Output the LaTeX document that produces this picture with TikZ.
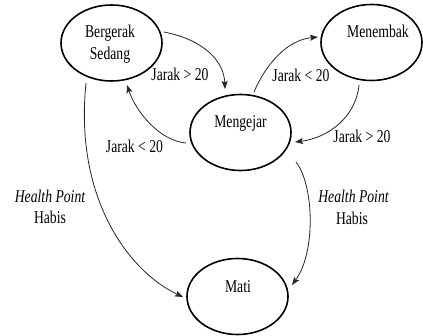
\documentclass[tikz,border=0pt]{standalone}
\usepackage{fontspec}
\setmainfont[FakeStretch=0.76]{Liberation Serif}
\usetikzlibrary{shapes.geometric,arrows.meta}
\tikzset{
  statebox/.style={ellipse, draw=black, line width=1.6pt, inner sep=0pt, minimum width=101pt, minimum height=76pt},
  txt/.style={anchor=base, inner sep=0pt, font=\fontsize{18}{22}\selectfont, text=black},
  conn/.style={draw=black!85, line width=0.8pt, -{Stealth[length=8pt,width=6pt,inset=1.5pt]}}
}
\begin{document}
\begin{tikzpicture}[x=1pt,y=-1pt]
\path[use as bounding box, fill=white] (0,0) rectangle (423,336);
% states
\node[statebox] (berg) at (111.5,43) {};
\node[statebox] (mene) at (371.5,42.5) {};
\node[statebox] (meng) at (240.5,132.5) {};
\node[statebox] (mati) at (237.5,296.5) {};
% state texts
\node[txt] (tberg1) at (110,38) {Bergerak};
\node[txt] (tberg2) at (110,60) {Sedang};
\node[txt] (tmene) at (378,38) {Menembak};
\node[txt] (tmeng) at (240.5,128) {Mengejar};
\node[txt] (tmati) at (238,293) {Mati};
% connector end points
\coordinate (a1) at (164,32);   \coordinate (a2) at (225,89);
\coordinate (b1) at (186,143);  \coordinate (b2) at (127,85);
\coordinate (c1) at (254,92);   \coordinate (c2) at (318,37);
\coordinate (d1) at (359,85);   \coordinate (d2) at (295,142);
\coordinate (e1) at (86,83);    \coordinate (e2) at (183,297);
\coordinate (f1) at (296,162);  \coordinate (f2) at (292,285);
% connectors
\path[conn] (a1) .. controls (205,40) and (224,62) .. (a2);
\path[conn] (b1) .. controls (160,141) and (136,112) .. (b2);
\path[conn] (c1) .. controls (266,64) and (287,40) .. (c2);
\path[conn] (d1) .. controls (356,117) and (328,138) .. (d2);
\path[conn] (e1) .. controls (74,200) and (130,272) .. (e2);
\path[conn] (f1) .. controls (314,185) and (316,252) .. (f2);
% labels
\node[txt] (l1) at (180,80.5) {Jarak > 20};
\node[txt] (l2) at (134.5,153) {Jarak < 20};
\node[txt] (l3) at (301,82) {Jarak < 20};
\node[txt] (l4) at (362,143) {Jarak > 20};
\node[txt] (l5a) at (50,203) {\itshape Health Point};
\node[txt] (l5b) at (50,224) {Habis};
\node[txt] (l6a) at (353.5,203) {\itshape Health Point};
\node[txt] (l6b) at (352,225) {Habis};
\end{tikzpicture}
\end{document}
